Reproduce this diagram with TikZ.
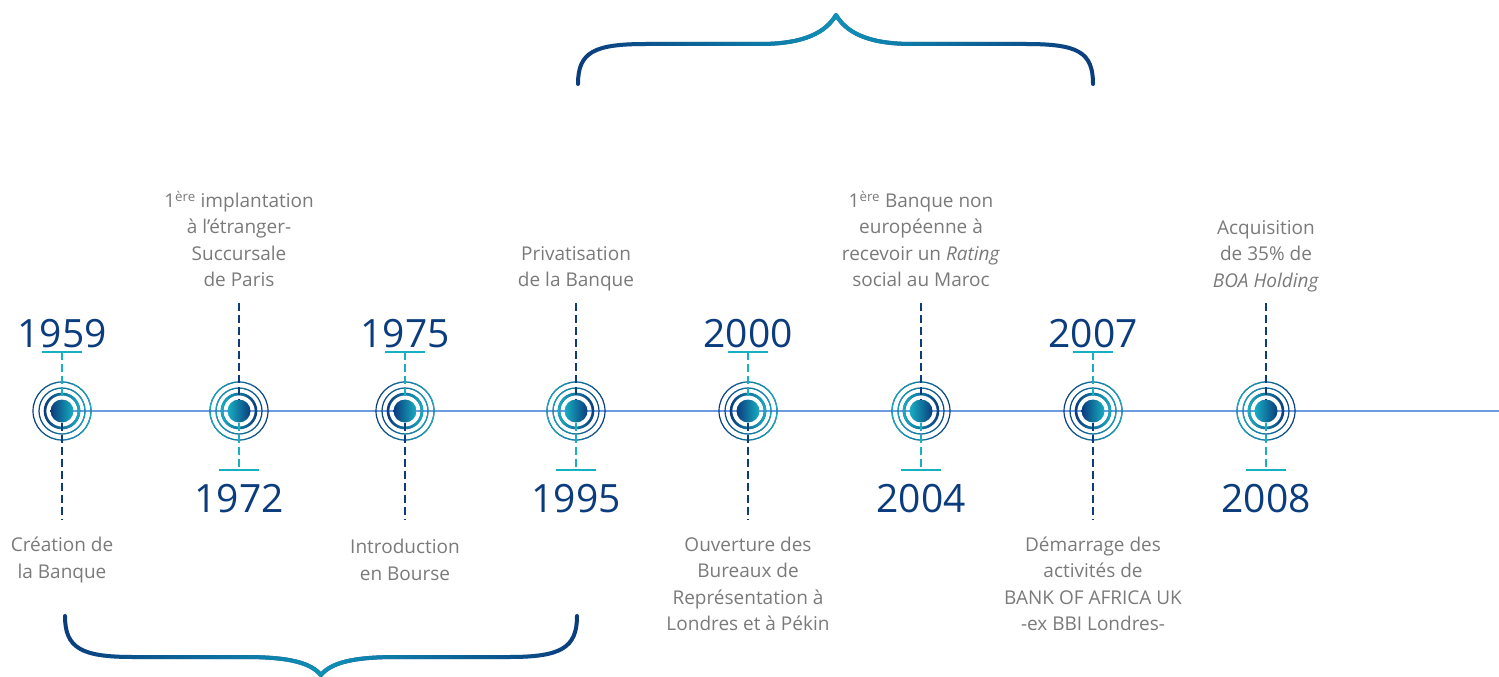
\documentclass[tikz,border=0pt]{standalone}
\usepackage{fontspec}
\setmainfont{Open Sans}
\usetikzlibrary{fadings}
\definecolor{navy}{HTML}{0B3C7D}
\definecolor{lagoon}{HTML}{17AFC2}
\definecolor{bracemid}{HTML}{0F92B8}
\definecolor{axisblue}{HTML}{6D9CE0}
\definecolor{labelgray}{HTML}{7A7A7A}
\tikzfading[name=fade east, left color=transparent!100, right color=transparent!0]
\tikzfading[name=fade west, left color=transparent!0, right color=transparent!100]
\tikzfading[name=fade centre, left color=transparent!100, right color=transparent!100, middle color=transparent!0]
\begin{document}
\begin{tikzpicture}[
    x=1pt, y=-1pt,
    axis/.style={axisblue, line width=2pt},
    dot/.style={circle, minimum size=23pt, inner sep=0pt},
    stem/.style={dash pattern=on 8pt off 4pt, line width=2pt},
    tick/.style={lagoon, line width=2.5pt},
    year/.style={navy, anchor=base, inner sep=0pt, font=\fontsize{39}{40}\selectfont},
    event/.style={labelgray, align=center, inner sep=0pt, font=\fontsize{19}{26.5}\selectfont},
    brace/.style={navy, line width=4pt, line cap=round, line join=round,
        postaction={draw, bracemid, path fading=fade centre}}]
  \useasboundingbox (0,0) rectangle (1499,677);

  \coordinate (start) at (62,411);
  \coordinate (axisend) at (1499,411);
  \draw[axis] (start) -- (axisend);

  % targets
  \foreach \id/\x/\side in {59/62/east, 72/239/west, 75/405/east, 95/576/west,
      00/748/east, 04/921/west, 07/1093/east, 08/1266/west} {
    \coordinate (c\id) at (\x,411);
    \draw[navy, line width=1.2pt, postaction={draw, lagoon, path fading=fade \side}]
      (c\id) circle (29pt) (c\id) circle (23pt);
    \draw[navy, line width=2.6pt, postaction={draw, lagoon, path fading=fade \side}]
      (c\id) circle (17pt);
  }
  \node[dot, left color=navy, right color=lagoon] (m59) at (c59) {};
  \node[dot, left color=lagoon, right color=navy] (m72) at (c72) {};
  \node[dot, left color=navy, right color=lagoon] (m75) at (c75) {};
  \node[dot, left color=lagoon, right color=navy] (m95) at (c95) {};
  \node[dot, left color=navy, right color=lagoon] (m00) at (c00) {};
  \node[dot, left color=lagoon, right color=navy] (m04) at (c04) {};
  \node[dot, left color=navy, right color=lagoon] (m07) at (c07) {};
  \node[dot, left color=lagoon, right color=navy] (m08) at (c08) {};

  % 1959
  \coordinate (t59) at (62,352);
  \coordinate (s59) at (62,520);
  \node[year] (y59) at (62,347) {1959};
  \draw[tick] ([xshift=-20pt]t59) -- ([xshift=20pt]t59);
  \draw[stem, lagoon] (t59) -- (m59);
  \draw[stem, navy] (m59) -- (s59);
  \node[event] (e59) at (62,560) {Création de\\la Banque};

  % 1972
  \coordinate (t72) at (239,470);
  \coordinate (s72) at (239,303);
  \node[year] (y72) at (239,512) {1972};
  \draw[tick] ([xshift=-20pt]t72) -- ([xshift=20pt]t72);
  \draw[stem, navy] (s72) -- (m72);
  \draw[stem, lagoon] (m72) -- (t72);
  \node[event] (e72) at (239,239) {1\textsuperscript{ère} implantation\\à l’étranger-\\Succursale\\de Paris};

  % 1975
  \coordinate (t75) at (405,352);
  \coordinate (s75) at (405,520);
  \node[year] (y75) at (405,347) {1975};
  \draw[tick] ([xshift=-20pt]t75) -- ([xshift=20pt]t75);
  \draw[stem, lagoon] (t75) -- (m75);
  \draw[stem, navy] (m75) -- (s75);
  \node[event] (e75) at (405,560) {Introduction\\en Bourse};

  % 1995
  \coordinate (t95) at (576,470);
  \coordinate (s95) at (576,303);
  \node[year] (y95) at (576,512) {1995};
  \draw[tick] ([xshift=-20pt]t95) -- ([xshift=20pt]t95);
  \draw[stem, navy] (s95) -- (m95);
  \draw[stem, lagoon] (m95) -- (t95);
  \node[event] (e95) at (576,269) {Privatisation\\de la Banque};

  % 2000
  \coordinate (t00) at (748,352);
  \coordinate (s00) at (748,520);
  \node[year] (y00) at (748,347) {2000};
  \draw[tick] ([xshift=-20pt]t00) -- ([xshift=20pt]t00);
  \draw[stem, lagoon] (t00) -- (m00);
  \draw[stem, navy] (m00) -- (s00);
  \node[event] (e00) at (748,584) {Ouverture des\\Bureaux de\\Représentation à\\Londres et à Pékin};

  % 2004
  \coordinate (t04) at (921,470);
  \coordinate (s04) at (921,303);
  \node[year] (y04) at (921,512) {2004};
  \draw[tick] ([xshift=-20pt]t04) -- ([xshift=20pt]t04);
  \draw[stem, navy] (s04) -- (m04);
  \draw[stem, lagoon] (m04) -- (t04);
  \node[event] (e04) at (921,239) {1\textsuperscript{ère} Banque non\\européenne à\\recevoir un \textit{Rating}\\social au Maroc};

  % 2007
  \coordinate (t07) at (1093,352);
  \coordinate (s07) at (1093,520);
  \node[year] (y07) at (1093,347) {2007};
  \draw[tick] ([xshift=-20pt]t07) -- ([xshift=20pt]t07);
  \draw[stem, lagoon] (t07) -- (m07);
  \draw[stem, navy] (m07) -- (s07);
  \node[event] (e07) at (1093,584) {Démarrage des\\activités de\\BANK OF AFRICA UK\\-ex BBI Londres-};

  % 2008
  \coordinate (t08) at (1266,470);
  \coordinate (s08) at (1266,303);
  \node[year] (y08) at (1266,512) {2008};
  \draw[tick] ([xshift=-20pt]t08) -- ([xshift=20pt]t08);
  \draw[stem, navy] (s08) -- (m08);
  \draw[stem, lagoon] (m08) -- (t08);
  \node[event] (e08) at (1266,256) {Acquisition\\de 35\% de\\\textit{BOA Holding}};

  % braces
  \coordinate (bl) at (578,84);
  \coordinate (bt) at (836,15);
  \coordinate (br) at (1093,84);
  \draw[brace] (bl) .. controls (578,52) and (594,44) .. (646,44) -- (760,44)
    .. controls (805,44) and (826,32) .. (bt)
    .. controls (846,32) and (867,44) .. (912,44) -- (1026,44)
    .. controls (1078,44) and (1093,52) .. (br);
  \coordinate (bbl) at (65,616);
  \coordinate (bbt) at (321,675);
  \coordinate (bbr) at (577,616);
  \draw[brace] (bbl) .. controls (65,648) and (81,657) .. (133,657) -- (245,657)
    .. controls (290,657) and (311,663) .. (bbt)
    .. controls (331,663) and (352,657) .. (397,657) -- (509,657)
    .. controls (561,657) and (577,648) .. (bbr);
\end{tikzpicture}
\end{document}
